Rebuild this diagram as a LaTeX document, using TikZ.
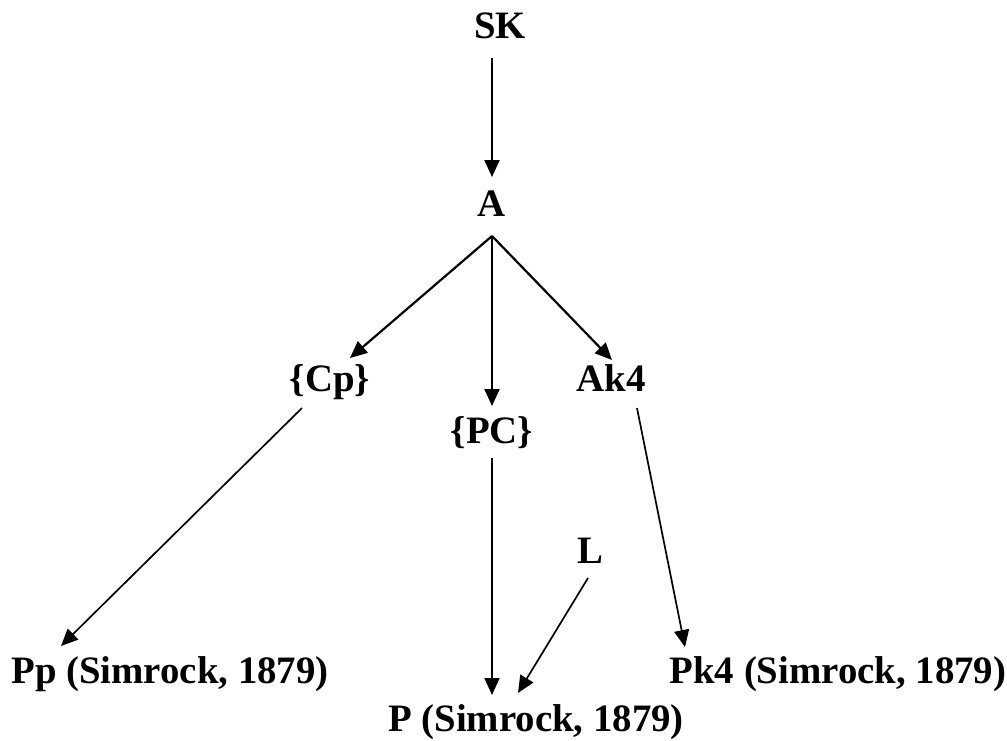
\documentclass[tikz,border=0pt]{standalone}
\usepackage{fontspec}
\setmainfont{Liberation Serif}
\usetikzlibrary{arrows.meta}

\begin{document}
\begin{tikzpicture}[x=0.5pt, y=-0.5pt, >={Triangle[length=8.5pt,width=7.5pt]},
    lbl/.style={font=\bfseries\fontsize{19.4}{23}\selectfont, inner sep=0pt, anchor=base},
    link/.style={->, line width=1.1pt},
    thinlink/.style={->, line width=0.85pt}]
    \useasboundingbox (0,0) rectangle (1007,740);

    % Nodes
    \node[lbl] (sk) at (500,38) {SK};
    \node[lbl] (a) at (492,216) {A};
    \node[lbl] (cp) at (330,391) {\{Cp\}};
    \node[lbl] (pc) at (492,443) {\{PC\}};
    \node[lbl] (ak) at (611,391) {Ak4};
    \node[lbl] (l) at (590,563) {L};
    \node[lbl] (pp) at (170,683) {Pp (Simrock, 1879)};
    \node[lbl] (pk) at (838,683) {Pk4 (Simrock, 1879)};
    \node[lbl] (p) at (536,731) {P (Simrock, 1879)};

    % Arrows from the top
    \draw[link] ([shift={(-8,20)}]sk.base) -- ([shift={(0,-39)}]a.base);
    \draw[link] ([shift={(0,20)}]a.base) -- ([shift={(20,-33)}]cp.base);
    \draw[link] ([shift={(0,20)}]a.base) -- ([shift={(0,-37)}]pc.base);
    \draw[link] ([shift={(0,20)}]a.base) -- ([shift={(1,-31)}]ak.base);

    % Arrows to the bottom row
    \draw[thinlink] ([shift={(-28,17)}]cp.base) -- ([shift={(-109,-37)}]pp.base);
    \draw[thinlink] ([shift={(0,15)}]pc.base) -- ([shift={(-44,-36)}]p.base);
    \draw[thinlink] ([shift={(-2,15)}]l.base) -- ([shift={(-18,-38)}]p.base);
    \draw[thinlink] ([shift={(26,17)}]ak.base) -- ([shift={(-153,-36)}]pk.base);
\end{tikzpicture}
\end{document}
